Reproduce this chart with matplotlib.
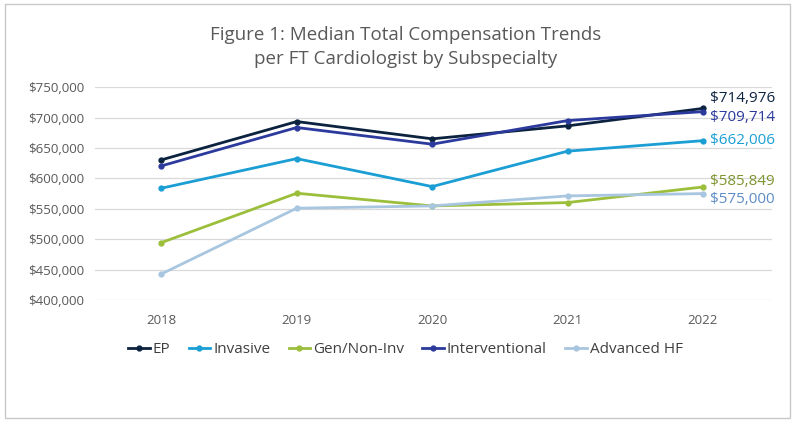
import matplotlib.pyplot as plt
from matplotlib.patches import Rectangle
from matplotlib.ticker import FuncFormatter

years = ['2018', '2019', '2020', '2021', '2022']
series = ['EP', 'Invasive', 'Gen/Non-Inv', 'Interventional', 'Advanced HF']
ep = [630400, 693400, 665000, 686300, 714976]
invasive = [583800, 632500, 586500, 644700, 662006]
gen_noninv = [494400, 575600, 554700, 560200, 585849]
interventional = [620500, 683600, 656200, 695000, 709714]
advanced_hf = [442800, 551000, 554700, 571200, 575000]
end_labels = ['$714,976', '$662,006', '$585,849', '$709,714', '$575,000']

line_colors = ['#0c2340', '#1a9ed4', '#9cbf3b', '#2b3a9c', '#a8c6df']
label_colors = ['#0c2340', '#1a9ed4', '#7e9630', '#2b3a9c', '#5d8cc6']
label_offsets = [7, 0, 4, -4.5, -4.5]

plt.rcParams['font.family'] = ['Open Sans', 'DejaVu Sans']

fig = plt.figure(figsize=(7.95, 4.25), dpi=100)
ax = fig.add_axes([0.1195, 0.294, 0.8515, 0.501])

x = range(len(years))
data = [ep, invasive, gen_noninv, interventional, advanced_hf]
for vals, name, c, lc, lab, off in zip(data, series, line_colors, label_colors, end_labels, label_offsets):
    ax.plot(x, vals, color=c, lw=2, marker='o', ms=3.5, label=name)
    ax.annotate(lab, (4, vals[-1]), xytext=(5, off), textcoords='offset points',
                color=lc, fontsize=11, va='center', ha='left', family='Open Sans')

ax.set_xlim(-0.49, 4.51)
ax.set_ylim(400000, 750000)
ax.set_yticks(range(400000, 750001, 50000))
ax.yaxis.set_major_formatter(FuncFormatter(lambda v, p: '${:,.0f}'.format(v)))
ax.set_xticks(list(x))
ax.set_xticklabels(years)
ax.grid(axis='y', color='#d9d9d9', lw=0.9)
ax.set_axisbelow(True)
for s in ax.spines.values():
    s.set_visible(False)
ax.tick_params(axis='both', length=0, labelsize=9.5, colors='#595959')
ax.tick_params(axis='x', pad=10)
ax.tick_params(axis='y', pad=8)

fig.text(0.51, 0.89, 'Figure 1: Median Total Compensation Trends\nper FT Cardiologist by Subspecialty',
         ha='center', va='center', fontsize=13.5, color='#595959', linespacing=1.45)

leg = fig.legend(loc='center', bbox_to_anchor=(0.51, 0.178), ncol=5, frameon=False,
                 fontsize=11, handlelength=1.4, handletextpad=0.2, columnspacing=1.2,
                 labelcolor='#404040')

fig.patches.append(Rectangle((0.006, 0.016), 0.988, 0.975, transform=fig.transFigure,
                             fill=False, edgecolor='#c8c8c8', lw=1))

fig.savefig('out.png', dpi=100)
